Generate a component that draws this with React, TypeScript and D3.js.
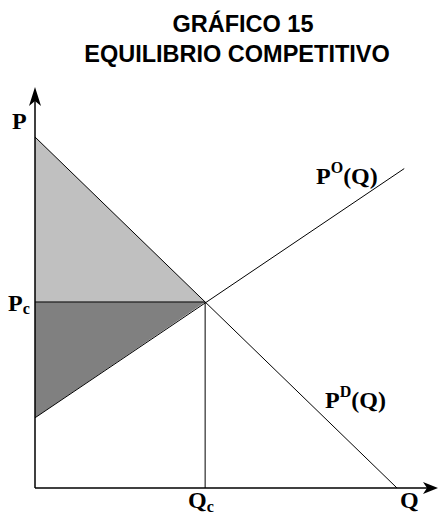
import React from "react";
import * as d3 from "d3";

const W = 438;
const H = 514;

const titleLines = ["GRÁFICO 15", "EQUILIBRIO COMPETITIVO"];

// Demand curve P^D(Q): [Q, P]
const demandPoints: [number, number][] = [
  [0, 10],
  [10, 0],
];
// Supply curve P^O(Q): [Q, P]
const supplyPoints: [number, number][] = [
  [0, 2.0],
  [10.2, 9.1],
];
const equilibrium = { q: 4.7, p: 5.3 };

const axisLabels = { p: "P", q: "Q", pc: "P", pcSub: "c", qc: "Q", qcSub: "c" };

export default function App() {
  const x = d3.scaleLinear().domain([0, 10]).range([35, 397]);
  const y = d3.scaleLinear().domain([0, 10]).range([488, 137]);

  const line = d3
    .line<[number, number]>()
    .x((d) => x(d[0]))
    .y((d) => y(d[1]));

  const x0 = x(0);
  const y0 = y(0);
  const ex = x(equilibrium.q);
  const ey = y(equilibrium.p);

  const consumer: [number, number][] = [
    [0, demandPoints[0][1]],
    [equilibrium.q, equilibrium.p],
    [0, equilibrium.p],
  ];
  const producer: [number, number][] = [
    [0, equilibrium.p],
    [equilibrium.q, equilibrium.p],
    [0, supplyPoints[0][1]],
  ];
  const poly = (pts: [number, number][]) => line(pts) + "Z";

  const serif = "'Liberation Serif', 'DejaVu Serif', serif";

  return (
    <svg
      width={W}
      height={H}
      style={{ position: "absolute", left: 0, top: 0, background: "#fff" }}
    >
      <g fontFamily="'Liberation Sans', Arial, sans-serif" fontWeight="bold" fontSize={23.5} textAnchor="middle" fill="#000">
        <text x={243} y={32}>{titleLines[0]}</text>
        <text x={237} y={62}>{titleLines[1]}</text>
      </g>

      <path d={poly(consumer)} fill="#c0c0c0" stroke="none" />
      <path d={poly(producer)} fill="#808080" stroke="none" />

      <g stroke="#000" strokeWidth={1} fill="none">
        <path d={line(demandPoints) || ""} />
        <path d={line(supplyPoints) || ""} />
        <line x1={x0} y1={ey} x2={ex} y2={ey} />
        <line x1={ex} y1={ey} x2={ex} y2={y0} />
      </g>

      <g stroke="#000" strokeWidth={1.5}>
        <line x1={x0} y1={y0} x2={x0} y2={92} />
        <line x1={x0} y1={y0} x2={432} y2={y0} />
      </g>
      <path
        d={`M${x0},87 L${x0 + 6},106 L${x0},101 L${x0 - 6},106 Z`}
        fill="#000"
      />
      <path
        d={`M438,${y0} L423,${y0 - 6} L427,${y0} L423,${y0 + 6} Z`}
        fill="#000"
      />

      <g fontFamily={serif} fontWeight="bold" fontSize={24} fill="#000">
        <text x={12} y={129}>{axisLabels.p}</text>
        <text x={8} y={311}>
          {axisLabels.pc}
          <tspan fontSize={16} dy={3}>{axisLabels.pcSub}</tspan>
        </text>
        <text x={188} y={508}>
          {axisLabels.qc}
          <tspan fontSize={16} dy={4}>{axisLabels.qcSub}</tspan>
        </text>
        <text x={400} y={508}>{axisLabels.q}</text>
        <text x={316} y={184}>
          P<tspan fontSize={16} dy={-11}>O</tspan>
          <tspan dy={11}>(Q)</tspan>
        </text>
        <text x={325} y={408}>
          P<tspan fontSize={16} dy={-11}>D</tspan>
          <tspan dy={11}>(Q)</tspan>
        </text>
      </g>
    </svg>
  );
}
